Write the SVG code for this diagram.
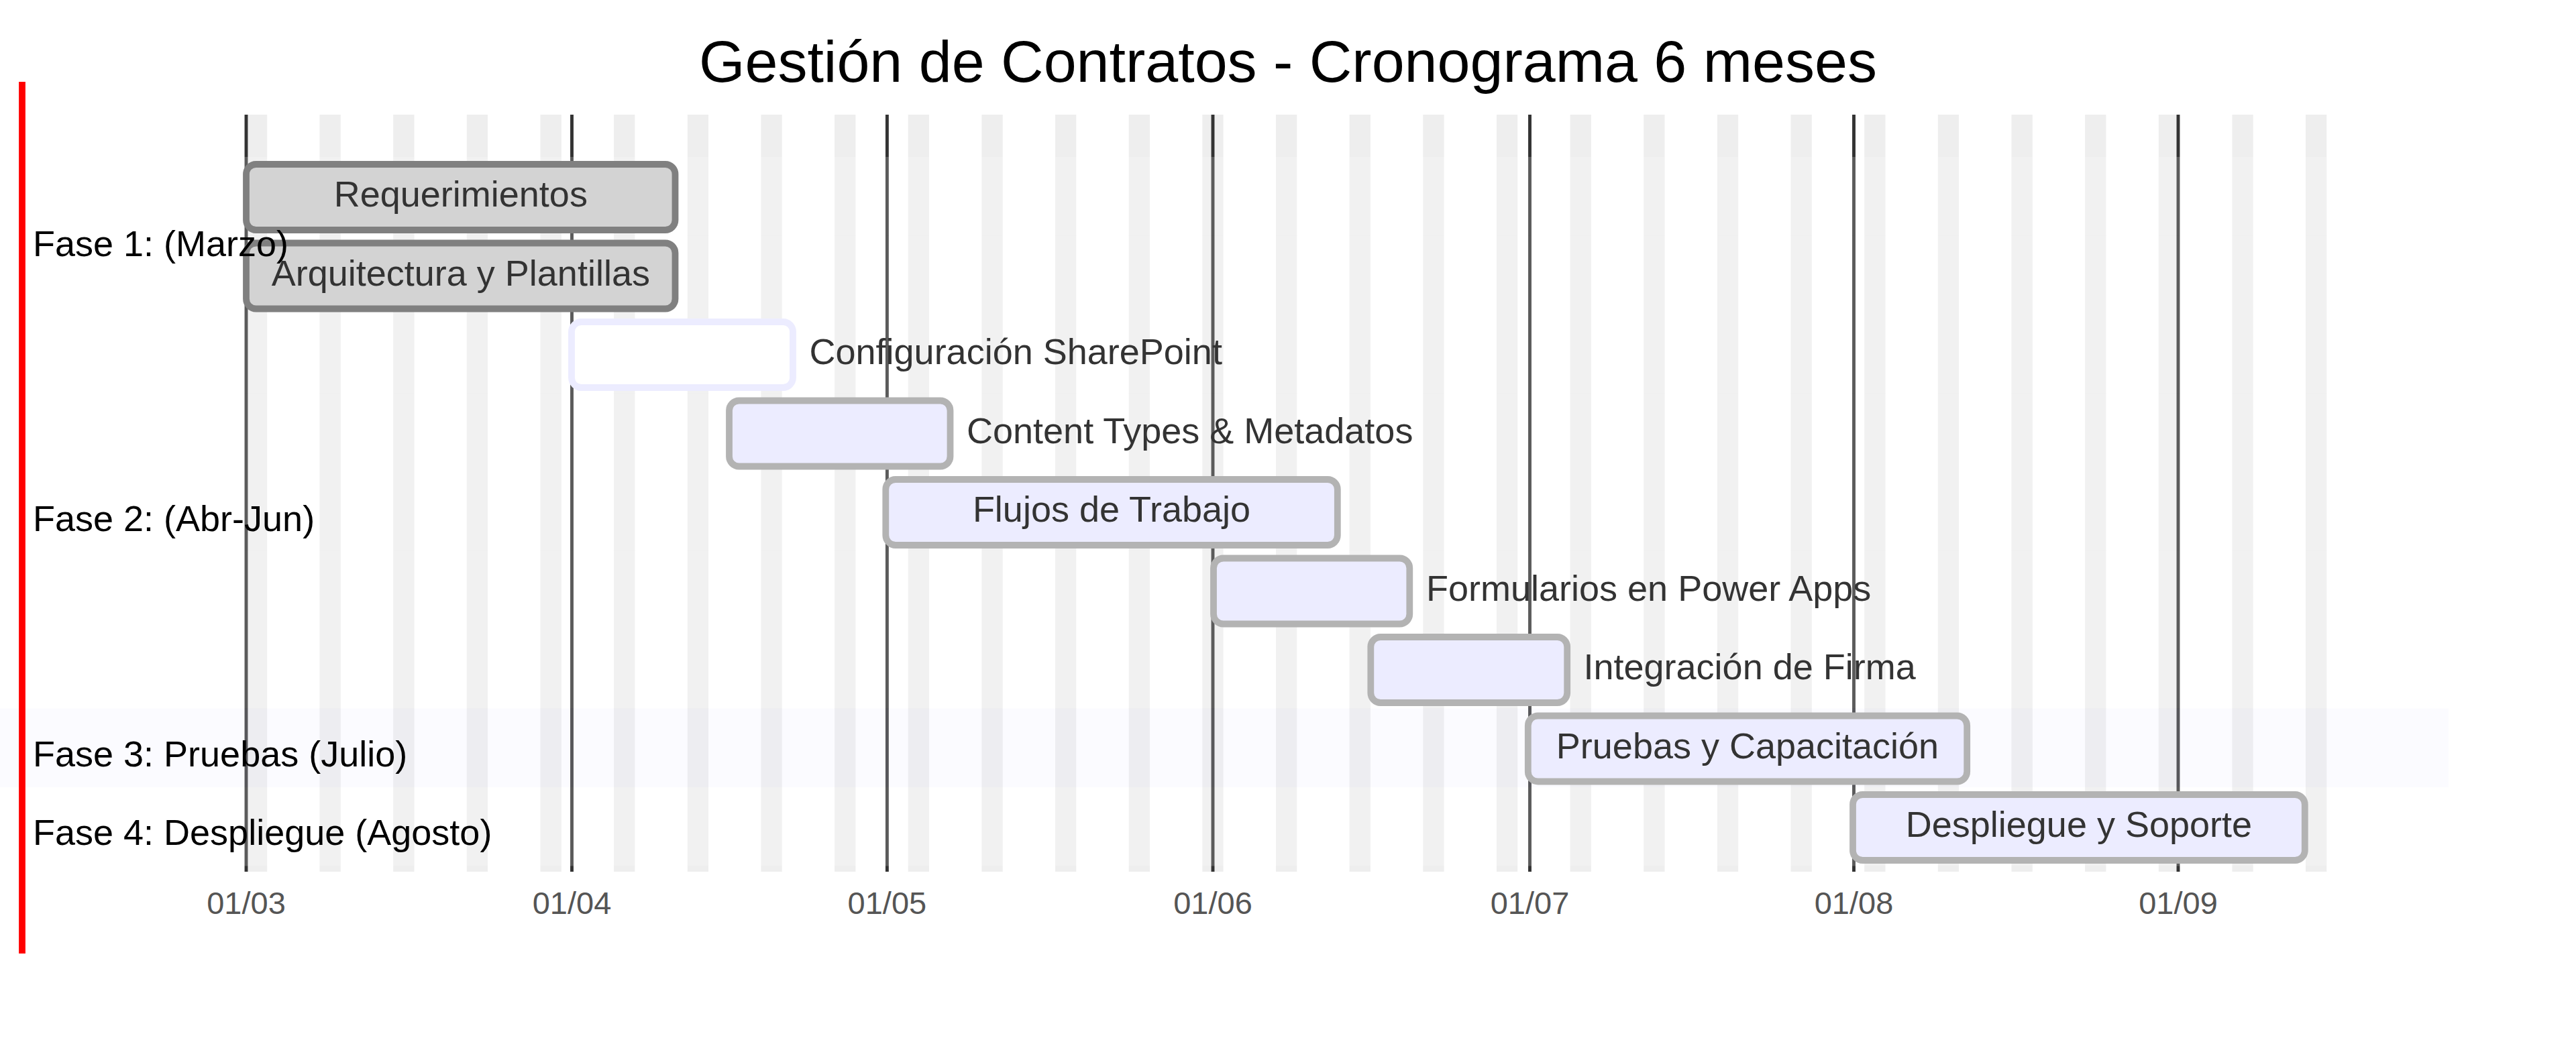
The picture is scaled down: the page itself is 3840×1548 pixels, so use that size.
<svg xmlns="http://www.w3.org/2000/svg" width="3840" height="1548" viewBox="0 0 3840 1548">
<style>
text{font-family:"Liberation Sans",Arial,sans-serif}
.title{font-size:88px;fill:#000;text-anchor:middle}
.exclude{fill:#eeeeee}
.grid line{stroke:#333;stroke-width:4.9}
.tick{font-size:47px;fill:#555;text-anchor:middle}
.sec-white{fill:#ffffff;opacity:0.2}
.sec-lav{fill:#ECECFF;opacity:0.2}
.task{fill:#ECECFF;stroke:#b3b3b3;stroke-width:9.8}
.done{fill:#d3d3d3;stroke:#808080;stroke-width:9.8}
.active{fill:#ffffff;stroke:#ECECFF;stroke-width:9.8}
.tin{font-size:54px;fill:#333;text-anchor:middle}
.tout{font-size:54px;fill:#333;text-anchor:start}
.sect{font-size:54px;fill:#000}
.today{stroke:#ff0000;stroke-width:9.8}
</style>
<rect width="3840" height="1548" fill="#ffffff"/>
<text class="title" x="1920" y="122">Gestión de Contratos - Cronograma 6 meses</text>
<g id="weekends">
<rect class="exclude" x="366.9" y="171" width="31.3" height="1129"/>
<rect class="exclude" x="476.5" y="171" width="31.3" height="1129"/>
<rect class="exclude" x="586.2" y="171" width="31.3" height="1129"/>
<rect class="exclude" x="695.8" y="171" width="31.3" height="1129"/>
<rect class="exclude" x="805.5" y="171" width="31.3" height="1129"/>
<rect class="exclude" x="915.1" y="171" width="31.3" height="1129"/>
<rect class="exclude" x="1024.8" y="171" width="31.3" height="1129"/>
<rect class="exclude" x="1134.4" y="171" width="31.3" height="1129"/>
<rect class="exclude" x="1244.1" y="171" width="31.3" height="1129"/>
<rect class="exclude" x="1353.7" y="171" width="31.3" height="1129"/>
<rect class="exclude" x="1463.4" y="171" width="31.3" height="1129"/>
<rect class="exclude" x="1573.0" y="171" width="31.3" height="1129"/>
<rect class="exclude" x="1682.7" y="171" width="31.3" height="1129"/>
<rect class="exclude" x="1792.3" y="171" width="31.3" height="1129"/>
<rect class="exclude" x="1902.0" y="171" width="31.3" height="1129"/>
<rect class="exclude" x="2011.6" y="171" width="31.3" height="1129"/>
<rect class="exclude" x="2121.3" y="171" width="31.3" height="1129"/>
<rect class="exclude" x="2230.9" y="171" width="31.3" height="1129"/>
<rect class="exclude" x="2340.6" y="171" width="31.3" height="1129"/>
<rect class="exclude" x="2450.2" y="171" width="31.3" height="1129"/>
<rect class="exclude" x="2559.9" y="171" width="31.3" height="1129"/>
<rect class="exclude" x="2669.5" y="171" width="31.3" height="1129"/>
<rect class="exclude" x="2779.2" y="171" width="31.3" height="1129"/>
<rect class="exclude" x="2888.8" y="171" width="31.3" height="1129"/>
<rect class="exclude" x="2998.5" y="171" width="31.3" height="1129"/>
<rect class="exclude" x="3108.1" y="171" width="31.3" height="1129"/>
<rect class="exclude" x="3217.8" y="171" width="31.3" height="1129"/>
<rect class="exclude" x="3327.4" y="171" width="31.3" height="1129"/>
<rect class="exclude" x="3437.0" y="171" width="31.3" height="1129"/>
</g>
<g id="grid" class="grid">
<line x1="367" y1="171" x2="367" y2="1300"/>
<line x1="852.5" y1="171" x2="852.5" y2="1300"/>
<line x1="1322.4" y1="171" x2="1322.4" y2="1300"/>
<line x1="1808" y1="171" x2="1808" y2="1300"/>
<line x1="2280.5" y1="171" x2="2280.5" y2="1300"/>
<line x1="2763.5" y1="171" x2="2763.5" y2="1300"/>
<line x1="3247" y1="171" x2="3247" y2="1300"/>
<text class="tick" x="367" y="1363">01/03</text>
<text class="tick" x="852.5" y="1363">01/04</text>
<text class="tick" x="1322.4" y="1363">01/05</text>
<text class="tick" x="1808" y="1363">01/06</text>
<text class="tick" x="2280.5" y="1363">01/07</text>
<text class="tick" x="2763.5" y="1363">01/08</text>
<text class="tick" x="3247" y="1363">01/09</text>
</g>
<g id="section-rows">
<rect class="sec-white" x="0" y="234" width="3650" height="117.5"/>
<rect class="sec-white" x="0" y="351.5" width="3650" height="117.5"/>
<rect class="sec-white" x="0" y="469" width="3650" height="117.5"/>
<rect class="sec-white" x="0" y="586.5" width="3650" height="117.5"/>
<rect class="sec-white" x="0" y="704" width="3650" height="117.5"/>
<rect class="sec-white" x="0" y="821.5" width="3650" height="117.5"/>
<rect class="sec-white" x="0" y="939" width="3650" height="117.5"/>
<rect class="sec-lav" x="0" y="1056.5" width="3650" height="117.5"/>
<rect class="sec-white" x="0" y="1174" width="3650" height="117.5"/>
</g>
<g id="connectors"/>
<g id="task-requerimientos">
<rect class="done" x="367" y="245" width="639.5" height="98" rx="14.7" ry="14.7"/>
<text class="tin" x="686.8" y="308">Requerimientos</text>
</g>
<g id="task-arquitectura">
<rect class="done" x="367" y="362.5" width="639.5" height="98" rx="14.7" ry="14.7"/>
<text class="tin" x="686.8" y="425.5">Arquitectura y Plantillas</text>
</g>
<g id="task-configuracion">
<rect class="active" x="852" y="480" width="330" height="98" rx="14.7" ry="14.7"/>
<text class="tout" x="1206.5" y="543">Configuración SharePoint</text>
</g>
<g id="task-contenttypes">
<rect class="task" x="1087" y="597.5" width="329.5" height="98" rx="14.7" ry="14.7"/>
<text class="tout" x="1441" y="660.5">Content Types &amp; Metadatos</text>
</g>
<g id="task-flujos">
<rect class="task" x="1320.3" y="715" width="673.5" height="98" rx="14.7" ry="14.7"/>
<text class="tin" x="1657" y="778">Flujos de Trabajo</text>
</g>
<g id="task-formularios">
<rect class="task" x="1809" y="832.5" width="292.3" height="98" rx="14.7" ry="14.7"/>
<text class="tout" x="2126" y="895.5">Formularios en Power Apps</text>
</g>
<g id="task-integracion">
<rect class="task" x="2043.3" y="950" width="292.9" height="98" rx="14.7" ry="14.7"/>
<text class="tout" x="2360.5" y="1013">Integración de Firma</text>
</g>
<g id="task-pruebas">
<rect class="task" x="2277.8" y="1067.5" width="654.4" height="98" rx="14.7" ry="14.7"/>
<text class="tin" x="2605" y="1130.5">Pruebas y Capacitación</text>
</g>
<g id="task-despliegue">
<rect class="task" x="2762" y="1185" width="673.8" height="98" rx="14.7" ry="14.7"/>
<text class="tin" x="3098.9" y="1248">Despliegue y Soporte</text>
</g>
<g id="section-labels">
<text class="sect" x="49" y="381.7">Fase 1: (Marzo)</text>
<text class="sect" x="49" y="792">Fase 2: (Abr-Jun)</text>
<text class="sect" x="49" y="1143">Fase 3: Pruebas (Julio)</text>
<text class="sect" x="49" y="1260">Fase 4: Despliegue (Agosto)</text>
</g>
<g id="today">
<line class="today" x1="33" y1="122" x2="33" y2="1422"/>
</g>
</svg>
